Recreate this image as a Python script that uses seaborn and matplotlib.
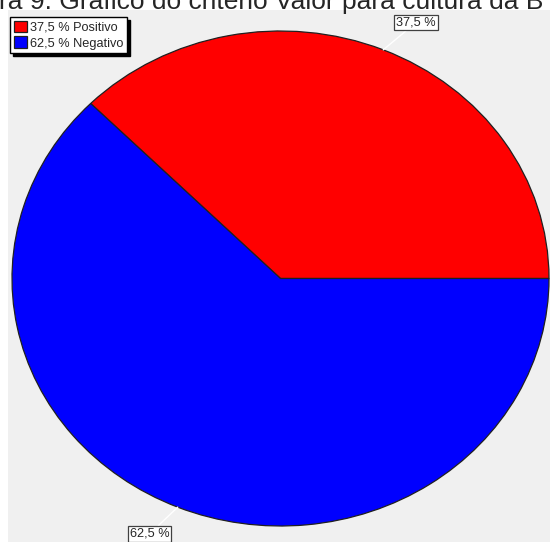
import matplotlib
matplotlib.use('Agg')
import matplotlib.pyplot as plt
import seaborn as sns
from matplotlib.patches import Rectangle
import numpy as np

# dados do gráfico
categorias = ['Positivo', 'Negativo']
valores = [37.5, 62.5]
cores = ['#ff0000', '#0000ff']
titulo = 'ra 9: Gráfico do critério Valor para cultura da B'

sns.set_style('white')
plt.rcParams['font.family'] = ['Liberation Sans', 'DejaVu Sans']

W, H = 550, 542
fig = plt.figure(figsize=(W / 100, H / 100), dpi=100)
fig.patch.set_facecolor('white')

# fundo cinza da área do gráfico
fundo = Rectangle((8 / W, 0), 1, (H - 10) / H, transform=fig.transFigure,
                  facecolor='#f0f0f0', edgecolor='none', zorder=-5)
fig.add_artist(fundo)

fig.text(-0.002, 1 - 9 / H, titulo, fontsize=19, va='baseline', ha='left')

# eixo da pizza (elíptica)
ax = fig.add_axes([12 / W, 16 / H, 537 / W, 495 / H])
ax.set_zorder(1)
paleta = sns.color_palette(cores)
wedges, _ = ax.pie(valores, colors=paleta, startangle=0, counterclock=True,
                   wedgeprops=dict(edgecolor='#202020', linewidth=0.9, clip_on=False))
ax.set_aspect('auto')
ax.set_xlim(-1, 1)
ax.set_ylim(-1, 1)
ax.axis('off')

def fmt(v):
    return f'{v:.1f}'.replace('.', ',') + ' %'

# rótulos com linhas guia
posicoes = [(416, H - 22.5), (149.5, H - 534)]
ang0 = 0
for v, pos in zip(valores, posicoes):
    meio = np.deg2rad(ang0 + v / 100 * 360 / 2)
    ang0 += v / 100 * 360
    ax.annotate(fmt(v), xy=(np.cos(meio), np.sin(meio)),
                xytext=pos, textcoords='figure pixels', ha='center', va='center',
                fontsize=9.2, annotation_clip=False,
                bbox=dict(boxstyle='square,pad=0.15', facecolor='white',
                          edgecolor='#404040', linewidth=0.9),
                arrowprops=dict(arrowstyle='-', color='white', lw=1,
                                shrinkA=0, shrinkB=0))

rotulos = [f'{fmt(v)} {c}' for v, c in zip(valores, categorias)]
leg = ax.legend(wedges, rotulos, loc='upper left',
                bbox_to_anchor=(10 / W, 1 - 17 / H), bbox_transform=fig.transFigure,
                fontsize=9.2, frameon=True, fancybox=False, borderaxespad=0,
                borderpad=0.3, handletextpad=0.25, labelspacing=0.2,
                handlelength=1.0, handleheight=1.0,
                shadow={'ox': 2.2, 'oy': -2.2, 'color': 'black', 'alpha': 1})
leg.get_frame().set_edgecolor('black')
leg.get_frame().set_linewidth(1)
leg.get_frame().set_facecolor('white')
leg.get_frame().set_alpha(1)

fig.savefig('out.png', dpi=100)
